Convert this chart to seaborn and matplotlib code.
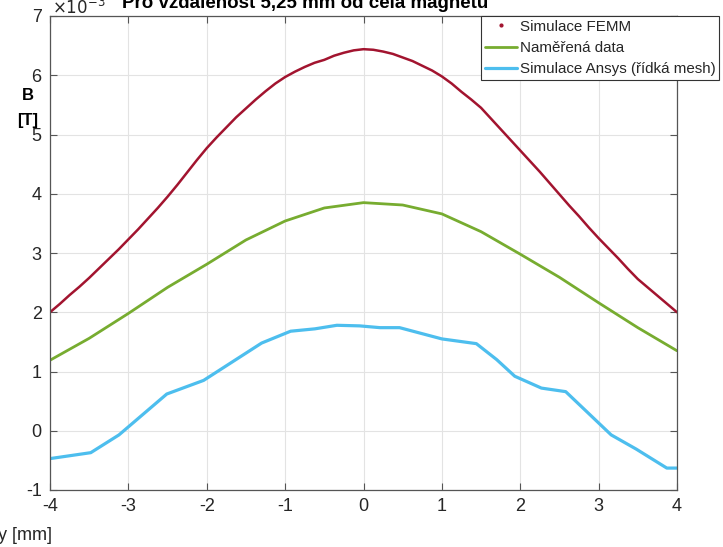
import numpy as np
import pandas as pd
import matplotlib
matplotlib.use("Agg")
import matplotlib.pyplot as plt
import seaborn as sns
from matplotlib.lines import Line2D

# Data (B in units of 1e-3 T, position y in mm)
femm_y = [-4.0, -3.875, -3.75, -3.625, -3.5, -3.375, -3.25, -3.125, -3.0,
          -2.875, -2.75, -2.625, -2.5, -2.375, -2.25, -2.125, -2.0,
          -1.875, -1.75, -1.625, -1.5, -1.375, -1.25, -1.125, -1.0,
          -0.875, -0.75, -0.625, -0.5, -0.375, -0.25, -0.125, 0.0,
          0.125, 0.25, 0.375, 0.5, 0.625, 0.75, 0.875, 1.0,
          1.125, 1.25, 1.375, 1.5, 1.625, 1.75, 1.875, 2.0,
          2.125, 2.25, 2.375, 2.5, 2.625, 2.75, 2.875, 3.0,
          3.125, 3.25, 3.375, 3.5, 3.625, 3.75, 3.875, 4.0]
femm_B = [2.00, 2.14, 2.29, 2.43, 2.58, 2.74, 2.90, 3.06, 3.23,
          3.40, 3.58, 3.76, 3.95, 4.15, 4.36, 4.57, 4.77,
          4.95, 5.12, 5.29, 5.44, 5.59, 5.73, 5.86, 5.97,
          6.06, 6.14, 6.21, 6.26, 6.33, 6.38, 6.42, 6.44,
          6.43, 6.40, 6.36, 6.30, 6.24, 6.16, 6.08, 5.98,
          5.86, 5.72, 5.59, 5.45, 5.27, 5.09, 4.91, 4.73,
          4.55, 4.37, 4.18, 3.99, 3.80, 3.62, 3.43, 3.25,
          3.08, 2.91, 2.73, 2.56, 2.42, 2.28, 2.14, 2.00]

mer_y = [-4.0, -3.5, -3.0, -2.5, -2.0, -1.5, -1.0, -0.5, 0.0, 0.5, 1.0, 1.5,
         2.0, 2.5, 3.0, 3.5, 4.0]
mer_B = [1.19, 1.56, 1.98, 2.42, 2.81, 3.22, 3.54, 3.76, 3.85, 3.81, 3.66, 3.36,
         2.98, 2.59, 2.16, 1.74, 1.35]

ans_y = [-4.0, -3.48, -3.12, -2.51, -2.04, -1.30, -0.93, -0.62, -0.34, -0.05,
         0.21, 0.46, 1.0, 1.44, 1.70, 1.93, 2.27, 2.58, 3.16, 3.48, 3.87, 4.0]
ans_B = [-0.47, -0.37, -0.07, 0.62, 0.85, 1.48, 1.68, 1.72, 1.78, 1.77,
         1.74, 1.74, 1.55, 1.47, 1.20, 0.92, 0.72, 0.66, -0.07, -0.31, -0.63, -0.63]

labels = ["Simulace FEMM", "Naměřená data", "Simulace Ansys (řídká mesh)"]
c_red = "#A2142F"
c_green = "#77AC30"
c_blue = "#4DBEEE"

sns.set_theme(style="white")
plt.rcParams['font.family'] = ['Liberation Sans', 'DejaVu Sans']
narrow = ['Liberation Sans Narrow', 'Liberation Sans']

fig = plt.figure(figsize=(7.23, 5.47), dpi=100)
ax = fig.add_axes([50/723, 57/547, 627/723, 474/547])

df_femm = pd.DataFrame({"y": femm_y, "B": femm_B})
df_mer = pd.DataFrame({"y": mer_y, "B": mer_B})
df_ans = pd.DataFrame({"y": ans_y, "B": ans_B})

sns.lineplot(data=df_femm, x="y", y="B", ax=ax, color=c_red, linewidth=1.8, legend=False)
sns.lineplot(data=df_mer, x="y", y="B", ax=ax, color=c_green, linewidth=2.0, legend=False)
sns.lineplot(data=df_ans, x="y", y="B", ax=ax, color=c_blue, linewidth=2.3, legend=False)

ax.set_xlim(-4, 4)
ax.set_ylim(-1, 7)
ax.set_xticks(np.arange(-4, 5, 1))
ax.set_yticks(np.arange(-1, 8, 1))
ax.set_xticklabels([str(v) for v in range(-4, 5)])
ax.set_yticklabels([str(v) for v in range(-1, 8)])
ax.grid(True, color="#e3e3e3", linewidth=0.8)
ax.set_axisbelow(True)
for s in ax.spines.values():
    s.set_color("#555555")
    s.set_linewidth(0.9)
ax.tick_params(direction="in", length=5, width=0.8, color="#555555",
               top=True, right=True, left=True, bottom=True,
               labelsize=13, labelcolor="#262626", pad=6)
for lab in ax.get_xticklabels() + ax.get_yticklabels():
    lab.set_family(narrow)

ax.set_xlabel("")
ax.set_ylabel("")
fig.text(-2/723, 1 - 535/547, "y [mm]", ha="left", va="center", fontsize=13,
         color="#262626", family=narrow)
fig.text(28/723, 1 - 96/547, "B", ha="center", va="center", fontsize=12,
         fontweight="bold", color="black")
fig.text(28/723, 1 - 120/547, "[T]", ha="center", va="center", fontsize=12,
         fontweight="bold", color="black")
fig.text(52/723, 1 - 7/547, r"$\times10^{-3}$", ha="left", va="center", fontsize=12,
         color="#262626")
fig.text(305/723, 1 - 4/547, "Pro vzdálenost 5,25 mm od čela magnetu", ha="center",
         va="center", fontsize=13.5, fontweight="bold", color="black")

handles = [Line2D([], [], color=c_red, marker=".", markersize=4, linestyle="none"),
           Line2D([], [], color=c_green, linewidth=2.0),
           Line2D([], [], color=c_blue, linewidth=2.3)]
leg = ax.legend(handles, labels, loc="upper left", bbox_to_anchor=(431/627, 1.0),
                borderaxespad=0.0, fontsize=10.9, frameon=True, fancybox=False,
                handlelength=2.1, handletextpad=0.2, borderpad=0.25, labelspacing=0.48)
leg.get_frame().set_edgecolor("#333333")
leg.get_frame().set_linewidth(0.8)
leg.get_frame().set_alpha(1.0)

plt.savefig("out.png", dpi=100)
